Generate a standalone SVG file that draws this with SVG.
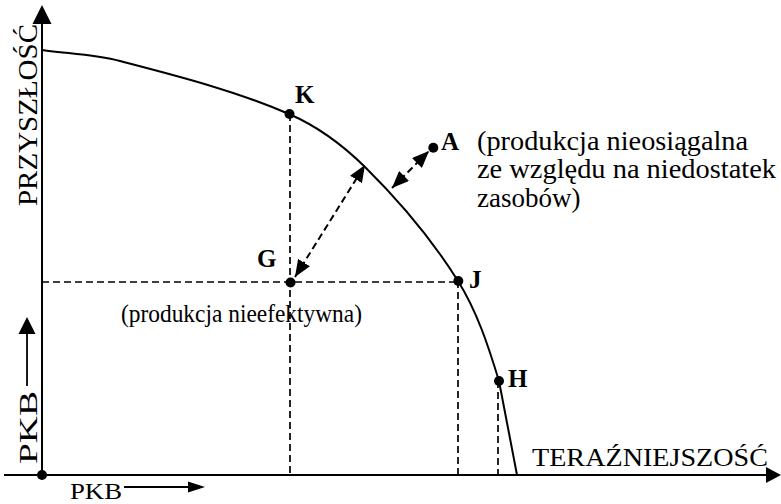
<svg xmlns="http://www.w3.org/2000/svg" width="781" height="504" viewBox="0 0 781 504">
<style>
.t{font-family:"Liberation Serif","Times New Roman",serif;fill:#000}
.b{font-family:"Liberation Serif","Times New Roman",serif;font-weight:bold;font-size:25px;fill:#000}
.ax{stroke:#000;stroke-width:2;fill:none}
.dash{stroke:#000;stroke-width:1.7;fill:none;stroke-dasharray:7 4}
.darr{stroke:#000;stroke-width:2;fill:none;stroke-dasharray:7 4;marker-start:url(#ah);marker-end:url(#ah)}
.dot{fill:#000}
</style>
<defs>
<marker id="ah" markerUnits="userSpaceOnUse" markerWidth="18" markerHeight="14" refX="17" refY="7" orient="auto-start-reverse">
<path d="M0,0 L17,7 L0,14 z" fill="#000"/>
</marker>
</defs>
<rect width="781" height="504" fill="#fff"/>
<g id="axes">
<line class="ax" x1="42" y1="475" x2="42" y2="20"/>
<polygon points="42,5 32.5,24 51.5,24" fill="#000"/>
<line class="ax" x1="4" y1="475" x2="768" y2="475"/>
<polygon points="781,475 766,467 766,483" fill="#000"/>
<circle class="dot" cx="42" cy="475" r="5"/>
</g>
<g id="axis-labels">
<text class="t" font-size="28" transform="translate(37,206) rotate(-90)" textLength="182" lengthAdjust="spacingAndGlyphs">PRZYSZŁOŚĆ</text>
<text class="t" font-size="26" transform="translate(37,464) rotate(-90)" textLength="73" lengthAdjust="spacingAndGlyphs">PKB</text>
<line x1="27" y1="386" x2="27" y2="330" stroke="#000" stroke-width="1.8"/>
<polygon points="27,317 18.5,334 35.5,334" fill="#000"/>
<text class="t" font-size="24" x="70" y="499" textLength="52" lengthAdjust="spacingAndGlyphs">PKB</text>
<line x1="124" y1="487" x2="192" y2="487" stroke="#000" stroke-width="1.8"/>
<polygon points="205,487 188,481.5 188,492.5" fill="#000"/>
<text class="t" font-size="26" x="532" y="466" textLength="236" lengthAdjust="spacingAndGlyphs">TERAŹNIEJSZOŚĆ</text>
</g>
<g id="curve">
<path class="ax" d="M42,50 C68,53.7 94.5,54.4 120,61 C177.1,75.8 234.8,90.6 289,114 C317.4,126.3 343,145.3 365,167 C399.8,201.4 432,239.5 458,281 C477.1,311.5 488.5,346.5 499,381 C505,412.3 511,443.7 517,475"/>
</g>
<g id="connectors">
<line class="dash" x1="290" y1="114" x2="290" y2="475"/>
<line class="dash" x1="42" y1="282" x2="458" y2="282"/>
<line class="dash" x1="458" y1="281" x2="458" y2="475"/>
<line class="dash" x1="498" y1="381" x2="498" y2="475"/>
<line class="darr" x1="295" y1="277" x2="365" y2="165"/>
<line class="darr" x1="392" y1="188" x2="429" y2="151"/>
</g>
<g id="node-K">
<circle class="dot" cx="289.5" cy="114" r="5"/>
<text class="b" x="295" y="103">K</text>
</g>
<g id="node-G">
<circle class="dot" cx="290.5" cy="282.5" r="5"/>
<text class="b" x="257" y="267">G</text>
</g>
<g id="node-J">
<circle class="dot" cx="458.3" cy="281" r="5"/>
<text class="b" x="469" y="288">J</text>
</g>
<g id="node-H">
<circle class="dot" cx="499" cy="381" r="5"/>
<text class="b" x="508" y="387">H</text>
</g>
<g id="node-A">
<circle class="dot" cx="433.3" cy="147.7" r="5"/>
<text class="b" x="441" y="150">A</text>
<text class="t" font-size="27" x="477" y="150" textLength="271" lengthAdjust="spacingAndGlyphs">(produkcja nieosiągalna</text>
<text class="t" font-size="27" x="477" y="178" textLength="299" lengthAdjust="spacingAndGlyphs">ze względu na niedostatek</text>
<text class="t" font-size="27" x="477" y="207">zasobów)</text>
</g>
<g id="label-inefficient">
<text class="t" font-size="25" x="121" y="322" textLength="241" lengthAdjust="spacingAndGlyphs">(produkcja nieefektywna)</text>
</g>
</svg>
